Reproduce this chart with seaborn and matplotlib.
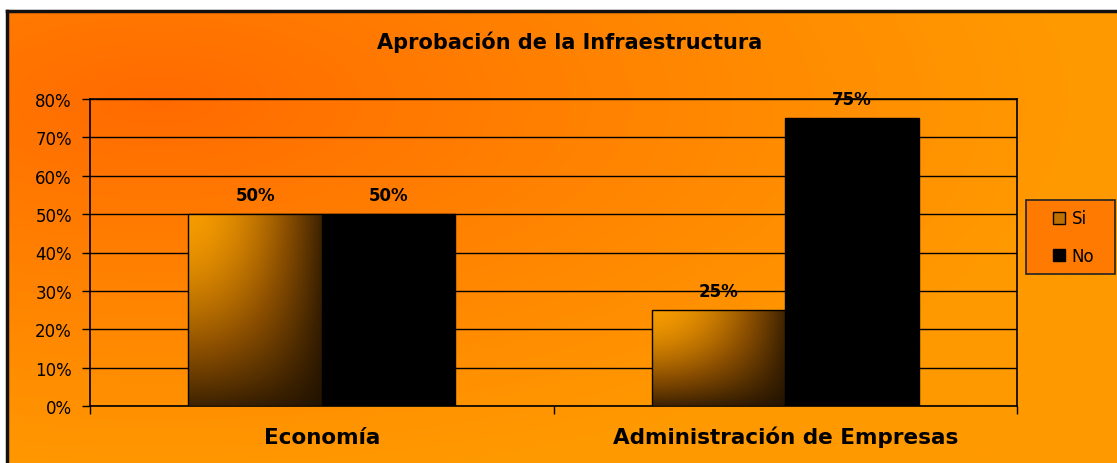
import numpy as np
import pandas as pd
import seaborn as sns
import matplotlib
matplotlib.use("Agg")
import matplotlib.pyplot as plt
from matplotlib.colors import LinearSegmentedColormap
from matplotlib.ticker import PercentFormatter, FixedLocator
from matplotlib.lines import Line2D
from matplotlib.patches import Rectangle

# data
carreras = ["Economía", "Administración de Empresas"]
si = [0.50, 0.25]
no = [0.50, 0.75]
respuestas = ["Si", "No"]
colores = ["#c07000", "black"]
titulo = "Aprobación de la Infraestructura"

df = pd.DataFrame({
    "carrera": carreras * 2,
    "respuesta": ["Si"] * len(si) + ["No"] * len(no),
    "valor": si + no,
})

sns.set_theme(style="white")
plt.rcParams["font.family"] = ["DejaVu Sans"]

W, H = 1117, 464
fig = plt.figure(figsize=(W / 100, H / 100), dpi=100)
fig.patch.set_linewidth(0)
fig.patch.set_edgecolor("none")

# orange background with a soft glow from the top-left
bg = fig.add_axes([7 / W, -0.02, 1.02 - 7 / W, (H - 12) / H + 0.02], zorder=-10)
yy, xx = np.mgrid[0:460, 0:1120]
d = np.sqrt(((xx - 150) / 900.0) ** 2 + ((yy - 90) / 380.0) ** 2)
t = np.clip(d, 0, 1) ** 0.9
bg_cmap = LinearSegmentedColormap.from_list("bg", ["#ff6a00", "#ff9900"])
bg.imshow(t, cmap=bg_cmap, aspect="auto", extent=[0, 1, 0, 1], origin="upper")
bg.set_xlim(0, 1)
bg.set_ylim(0, 1)
bg.set_xticks([])
bg.set_yticks([])
for side in ["right", "bottom"]:
    bg.spines[side].set_visible(False)
for side in ["left", "top"]:
    bg.spines[side].set_color("#111111")
    bg.spines[side].set_linewidth(2.5)

ax = fig.add_axes([90 / W, 1 - 407 / H, (1017 - 90) / W, (407 - 100) / H])
ax.set_facecolor("none")
sns.barplot(data=df, x="carrera", y="valor", hue="respuesta", hue_order=respuestas,
            palette=colores, width=0.575, gap=0, saturation=1,
            edgecolor="black", linewidth=1, ax=ax, zorder=3, legend=False)

ax.set_ylim(0, 0.8)
ax.set_xlim(-0.5, 1.5)
ax.yaxis.set_major_locator(FixedLocator(np.arange(0, 0.81, 0.1)))
ax.yaxis.set_major_formatter(PercentFormatter(1.0, decimals=0))
ax.grid(axis="y", color="black", linewidth=1, zorder=1)
ax.set_axisbelow(True)
for s in ax.spines.values():
    s.set_color("black")
    s.set_linewidth(1.2)

ax.tick_params(axis="y", left=True, length=6, width=1, color="black", pad=7,
               labelsize=12, labelcolor="black")
ax.tick_params(axis="x", which="major", length=0, pad=27, labelsize=15.5, labelcolor="black")
for lab in ax.get_xticklabels():
    lab.set_fontweight("bold")
    lab.set_va("baseline")
ax.set_xticks([-0.5, 0.5, 1.5], minor=True)
ax.tick_params(axis="x", which="minor", bottom=True, length=6, width=1, color="black")
ax.set_xlabel("")
ax.set_ylabel("")

# gradient fill on the "Si" bars
bar_cmap = LinearSegmentedColormap.from_list("bar", ["#1e1000", "#8a4e00", "#f59a00"])
gy, gx = np.mgrid[0:1:100j, 0:1:100j]
shade = (1 - 0.85 * gx ** 1.8) * (1 - 0.85 * gy ** 1.6)
for bar in ax.containers[0]:
    x0, y0 = bar.get_x(), bar.get_y()
    w, h = bar.get_width(), bar.get_height()
    im = ax.imshow(shade, cmap=bar_cmap, vmin=0, vmax=1, aspect="auto",
                   extent=[x0, x0 + w, y0, y0 + h], origin="upper", zorder=3.5)
    im.set_clip_path(bar)
    bar.set_facecolor("none")
    bar.set_zorder(4)
ax.set_xlim(-0.5, 1.5)
ax.set_ylim(0, 0.8)

for cont in ax.containers:
    ax.bar_label(cont, labels=[f"{v * 100:.0f}%" for v in cont.datavalues],
                 padding=7, fontsize=12, fontweight="bold", color="black", zorder=5)

fig.text(570 / W, 1 - 42 / H, titulo, ha="center", va="center",
         fontsize=15, fontweight="bold", color="black")

# legend box drawn by hand, entries from the series
fig.patches.append(Rectangle((1026 / W, 1 - 275 / H), 89 / W, 74 / H,
                             transform=fig.transFigure, facecolor="#ff7a00",
                             edgecolor="#222222", linewidth=1.2, zorder=1))
handles = [Line2D([], [], linestyle="none", marker="s", markersize=8,
                  markerfacecolor=c, markeredgecolor="black", markeredgewidth=1)
           for c in colores]
leg = fig.legend(handles, respuestas, loc="center left",
                 bbox_to_anchor=(1054 / W, 1 - 238 / H), frameon=False,
                 fontsize=12, handlelength=0.6, handletextpad=0.45,
                 labelspacing=1.15, borderpad=0, borderaxespad=0)
for txt in leg.get_texts():
    txt.set_color("black")

fig.savefig("out.png", dpi=100, edgecolor="none")
